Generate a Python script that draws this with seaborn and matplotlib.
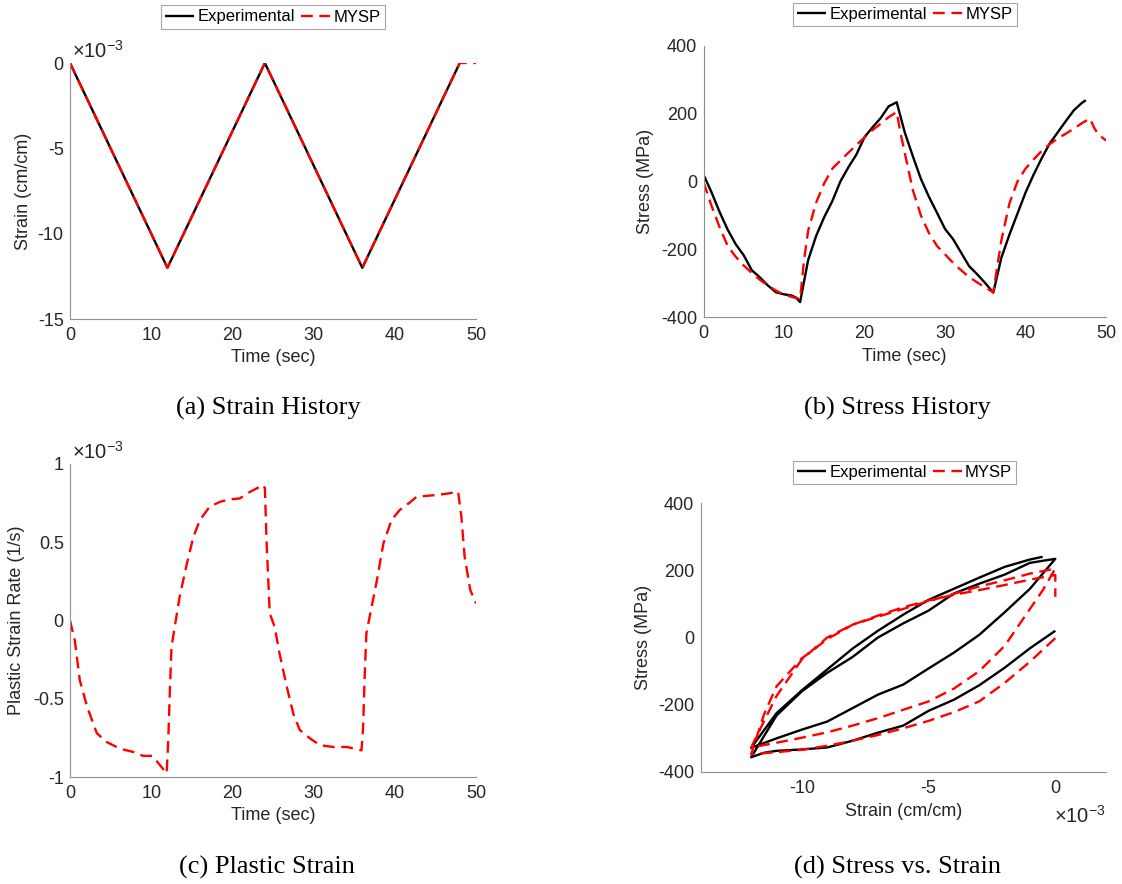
import matplotlib
matplotlib.use("Agg")
import matplotlib.pyplot as plt
from matplotlib.ticker import FixedLocator, FuncFormatter
import seaborn as sns

# ---------------- data ----------------
# (a) strain history, strain in units of 1e-3 cm/cm
t_strain_exp = [0, 12, 24, 36, 48]
strain_hist_exp = [0, -12, 0, -12, 0]
t_strain_mysp = [0, 12, 24, 36, 48, 50]
strain_hist_mysp = [0, -12, 0, -12, 0, 0]

# (b) stress history (MPa)
t_exp = [0, 1, 2, 3, 4, 5, 6, 7, 8, 9, 10, 11, 11.5, 12,
         13, 14, 15, 16, 17, 18, 19, 20, 21, 22, 23, 24,
         25, 26, 27, 28, 29, 30, 31, 32, 33, 34, 35, 36,
         37, 38, 39, 40, 41, 42, 43, 44, 45, 46, 47, 47.5]
stress_exp = [20, -32, -90, -142, -185, -218, -262, -283, -307, -327, -333, -337, -343, -356,
              -232, -160, -105, -58, 0, 42, 80, 131, 160, 187, 222, 234,
              145, 75, 8, -45, -92, -140, -170, -210, -250, -274, -300, -328,
              -225, -157, -95, -33, 20, 68, 112, 145, 178, 210, 232, 240]
strain_exp = [0, -1, -2, -3, -4, -5, -6, -7, -8, -9, -10, -11, -11.5, -12,
              -11, -10, -9, -8, -7, -6, -5, -4, -3, -2, -1, 0,
              -1, -2, -3, -4, -5, -6, -7, -8, -9, -10, -11, -12,
              -11, -10, -9, -8, -7, -6, -5, -4, -3, -2, -1, -0.5]

t_mysp = [0, 1, 2, 3, 4, 5, 6, 7, 8, 9, 10, 11, 12, 12.5,
          13, 14, 15, 16, 17, 18, 19, 20, 21, 22, 23, 24, 24.5,
          25, 26, 27, 28, 29, 30, 31, 32, 33, 34, 35, 36, 36.5,
          37, 38, 39, 40, 41, 42, 43, 44, 45, 46, 47, 48, 48.5, 49, 50]
stress_mysp = [-2, -72, -135, -190, -222, -248, -270, -290, -307, -322, -334, -341, -347, -230,
               -145, -62, -5, 38, 62, 85, 108, 130, 152, 170, 190, 205, 140,
               85, -25, -100, -152, -190, -215, -240, -262, -282, -298, -313, -327, -250,
               -174, -65, 0, 38, 65, 90, 110, 127, 141, 156, 172, 186, 160, 140, 121]
strain_mysp = [0, -1, -2, -3, -4, -5, -6, -7, -8, -9, -10, -11, -12, -11.5,
               -11, -10, -9, -8, -7, -6, -5, -4, -3, -2, -1, 0, -0.5,
               -1, -2, -3, -4, -5, -6, -7, -8, -9, -10, -11, -12, -11.5,
               -11, -10, -9, -8, -7, -6, -5, -4, -3, -2, -1, 0, 0, 0, 0]

# (c) plastic strain rate, units of 1e-3 1/s
t_rate = [0, 0.6, 1.2, 2.1, 3.3, 4.5, 6.2, 7.8, 9.0, 10.1,
          10.7, 11.9, 12.1, 12.3, 12.5, 12.9, 13.5, 14.4, 15.2, 16.0,
          17.2, 18.5, 19.7, 20.9, 22.2, 23.8, 24.0, 24.2, 24.6, 25.2,
          25.8, 26.7, 27.5, 28.3, 29.6, 30.8, 32.4, 34.1, 35.9, 36.1,
          36.3, 36.5, 36.9, 37.8, 38.6, 39.6, 40.6, 41.7, 42.7, 44.7,
          46.4, 47.8, 48.2, 48.6, 49.3, 50]
rate_mysp = [0, -0.13, -0.38, -0.55, -0.72, -0.776, -0.82, -0.84, -0.865, -0.865,
             -0.90, -0.977, -0.765, -0.446, -0.168, -0.04, 0.151, 0.365, 0.535, 0.642,
             0.727, 0.759, 0.774, 0.78, 0.823, 0.866, 0.845, 0.514, 0.045, -0.04,
             -0.21, -0.424, -0.595, -0.70, -0.755, -0.797, -0.808, -0.808, -0.83, -0.68,
             -0.339, -0.083, 0.023, 0.258, 0.493, 0.642, 0.706, 0.748, 0.791, 0.80,
             0.81, 0.823, 0.663, 0.407, 0.194, 0.109]

SCALE = 1e-3
captions = ["(a) Strain History", "(b) Stress History",
            "(c) Plastic Strain", "(d) Stress vs. Strain"]
series_names = ["Experimental", "MYSP"]

# ---------------- style ----------------
sns.set_theme(style="white")
plt.rcParams["font.family"] = ["Liberation Sans", "DejaVu Sans"]
plt.rcParams["axes.unicode_minus"] = False
plt.rcParams["mathtext.fontset"] = "custom"
plt.rcParams["mathtext.rm"] = "Liberation Sans"
plt.rcParams["mathtext.it"] = "Liberation Sans:italic"

AX_GRAY = "#8f8f8f"
TXT = "#262626"
LW = 1.7
DASH = (5.0, 2.8)
FS = 13

fig = plt.figure(figsize=(11.22, 8.84), dpi=100)
W, H = 1122, 884


def add_axes(left, top, right, bottom):
    return fig.add_axes([left / W, 1 - bottom / H, (right - left) / W, (bottom - top) / H])


def style_axes(ax):
    for s in ["top", "right"]:
        ax.spines[s].set_visible(False)
    for s in ["left", "bottom"]:
        ax.spines[s].set_color(AX_GRAY)
        ax.spines[s].set_linewidth(0.8)
    ax.tick_params(direction="in", length=3, width=0.7, color=AX_GRAY,
                   labelcolor=TXT, labelsize=FS)
    ax.tick_params(axis="x", pad=5.5)
    ax.tick_params(axis="y", pad=4.5)
    ax.grid(False)


def plain(v, pos):
    return "%g" % round(v, 6)


def scaled(v, pos):
    return "%g" % round(v / SCALE, 6)


def draw(ax, x, y, color, dashed, label):
    sns.lineplot(x=x, y=y, ax=ax, color=color, lw=LW, sort=False,
                 estimator=None, label=label, legend=False)
    ln = ax.lines[-1]
    if dashed:
        ln.set_dashes(DASH)
    ln.set_solid_capstyle("butt")
    ln.set_dash_capstyle("butt")
    ln.set_solid_joinstyle("round")
    return ln


def legend(ax, cx, cy):
    leg = ax.legend(handles=ax.lines[:2], labels=series_names, loc="center",
                    bbox_to_anchor=(cx / W, 1 - cy / H), bbox_transform=fig.transFigure,
                    ncol=2, frameon=True, fancybox=False, framealpha=1,
                    edgecolor="#a6a6a6", fontsize=12, handlelength=1.75,
                    handletextpad=0.2, columnspacing=0.35, borderpad=0.25,
                    borderaxespad=0)
    leg.get_frame().set_linewidth(0.8)
    for t in leg.get_texts():
        t.set_color("black")


def mult_label(ax, x, y, ha, va):
    ax.text(x, y, r"$\times\mathregular{10^{-3}}$", transform=ax.transAxes,
            ha=ha, va=va, fontsize=14.5, color=TXT)


def caption(cx, cy, text):
    fig.text(cx / W, 1 - cy / H, text, ha="center", va="center",
             fontsize=19, family="Liberation Serif", color="black")


# ---------------- (a) strain history ----------------
ax = add_axes(70, 63, 476, 319)
style_axes(ax)
draw(ax, t_strain_exp, [v * SCALE for v in strain_hist_exp], "black", False, series_names[0])
draw(ax, t_strain_mysp, [v * SCALE for v in strain_hist_mysp], "red", True, series_names[1])
ax.set_xlim(0, 50)
ax.set_ylim(-15 * SCALE, 0)
ax.xaxis.set_major_locator(FixedLocator([0, 10, 20, 30, 40, 50]))
ax.yaxis.set_major_locator(FixedLocator([v * SCALE for v in [-15, -10, -5, 0]]))
ax.xaxis.set_major_formatter(FuncFormatter(plain))
ax.yaxis.set_major_formatter(FuncFormatter(scaled))
ax.set_xlabel("Time (sec)", fontsize=FS, color=TXT)
ax.set_ylabel("Strain (cm/cm)", fontsize=FS, color=TXT)
ax.yaxis.set_label_coords((32 - 70) / 406, 0.5)
ax.xaxis.set_label_coords(0.5, -(349 - 319) / 256)
mult_label(ax, 0.004, 1.022, "left", "baseline")
legend(ax, 273, 17)
caption(268, 408, captions[0])

# ---------------- (b) stress history ----------------
ax = add_axes(703.5, 46, 1106, 317)
style_axes(ax)
draw(ax, t_exp, stress_exp, "black", False, series_names[0])
draw(ax, t_mysp, stress_mysp, "red", True, series_names[1])
ax.set_xlim(0, 50)
ax.set_ylim(-400, 400)
ax.xaxis.set_major_locator(FixedLocator([0, 10, 20, 30, 40, 50]))
ax.yaxis.set_major_locator(FixedLocator([-400, -200, 0, 200, 400]))
ax.xaxis.set_major_formatter(FuncFormatter(plain))
ax.yaxis.set_major_formatter(FuncFormatter(plain))
ax.set_xlabel("Time (sec)", fontsize=FS, color=TXT)
ax.set_ylabel("Stress (MPa)", fontsize=FS, color=TXT)
ax.yaxis.set_label_coords((654 - 703.5) / 402.5, 0.5)
ax.xaxis.set_label_coords(0.5, -(348 - 317) / 271)
legend(ax, 905, 14.5)
caption(897, 408, captions[1])

# ---------------- (c) plastic strain rate ----------------
ax = add_axes(70, 464, 476, 777)
style_axes(ax)
draw(ax, t_rate, [v * SCALE for v in rate_mysp], "red", True, series_names[1])
ax.set_xlim(0, 50)
ax.set_ylim(-1 * SCALE, 1 * SCALE)
ax.xaxis.set_major_locator(FixedLocator([0, 10, 20, 30, 40, 50]))
ax.yaxis.set_major_locator(FixedLocator([v * SCALE for v in [-1, -0.5, 0, 0.5, 1]]))
ax.xaxis.set_major_formatter(FuncFormatter(plain))
ax.yaxis.set_major_formatter(FuncFormatter(scaled))
ax.set_xlabel("Time (sec)", fontsize=FS, color=TXT)
ax.set_ylabel("Plastic Strain Rate (1/s)", fontsize=FS, color=TXT)
ax.yaxis.set_label_coords((25 - 70) / 406, 0.5)
ax.xaxis.set_label_coords(0.5, -(807 - 777) / 313)
mult_label(ax, 0.004, 1.016, "left", "baseline")
caption(267, 867, captions[2])

# ---------------- (d) stress vs strain ----------------
ax = add_axes(700.5, 503, 1106, 772)
style_axes(ax)
draw(ax, [v * SCALE for v in strain_exp], stress_exp, "black", False, series_names[0])
draw(ax, [v * SCALE for v in strain_mysp], stress_mysp, "red", True, series_names[1])
ax.set_xlim(-14 * SCALE, 2 * SCALE)
ax.set_ylim(-400, 400)
ax.xaxis.set_major_locator(FixedLocator([v * SCALE for v in [-10, -5, 0]]))
ax.yaxis.set_major_locator(FixedLocator([-400, -200, 0, 200, 400]))
ax.xaxis.set_major_formatter(FuncFormatter(scaled))
ax.yaxis.set_major_formatter(FuncFormatter(plain))
ax.set_xlabel("Strain (cm/cm)", fontsize=FS, color=TXT)
ax.set_ylabel("Stress (MPa)", fontsize=FS, color=TXT)
ax.yaxis.set_label_coords((651.5 - 700.5) / 405.5, 0.5)
ax.xaxis.set_label_coords(0.5, -(803 - 772) / 269)
mult_label(ax, 1.0, -(823 - 772) / 269, "right", "baseline")
legend(ax, 904.5, 472.5)
caption(897.5, 867, captions[3])

fig.savefig("out.png", dpi=100, facecolor="white")
